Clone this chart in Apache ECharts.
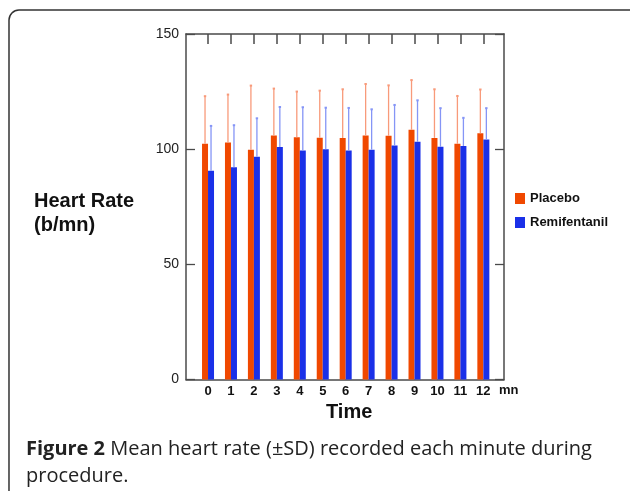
<!DOCTYPE html>
<html>
<head>
<meta charset="utf-8">
<script src="https://cdn.jsdelivr.net/npm/echarts@6/dist/echarts.min.js"></script>
<style>
  html, body { margin: 0; padding: 0; background: #fff; }
  #chart { width: 630px; height: 491px; }
</style>
</head>
<body>
<div id="chart"></div>
<script>
// minutes of the procedure
const minutes = [0, 1, 2, 3, 4, 5, 6, 7, 8, 9, 10, 11, 12];

// mean heart rate and SD, b/mn
const placeboMean = [102.3, 102.9, 99.7, 105.9, 105.2, 105.0, 104.9, 105.9, 105.8, 108.4, 104.9, 102.3, 106.9];
const placeboSD = [20.7, 20.8, 27.9, 20.4, 19.8, 20.4, 21.1, 22.4, 21.9, 21.6, 21.1, 20.8, 19.0];
const remiMean = [90.6, 92.2, 96.7, 100.9, 99.4, 100.0, 99.4, 99.8, 101.6, 103.2, 101.0, 101.4, 104.2];
const remiSD = [19.5, 18.2, 16.7, 17.4, 18.8, 18.0, 18.5, 17.5, 17.6, 18.0, 16.8, 12.2, 13.6];

const BAR_W = 6;
const axisColor = '#4a4a4a';

function errorSeries(name, means, sds, offset, color) {
  return {
    type: 'custom',
    name: name + ' SD',
    silent: true,
    z: 3,
    data: minutes.map((m, i) => [m, means[i], means[i] + sds[i]]),
    encode: { x: 0, y: [1, 2] },
    renderItem: function (params, api) {
      const base = api.coord([api.value(0), api.value(1)]);
      const top = api.coord([api.value(0), api.value(2)]);
      const x = base[0] + offset;
      return {
        type: 'group',
        children: [
          {
            type: 'line',
            shape: { x1: x, y1: base[1], x2: x, y2: top[1] },
            style: { stroke: color, lineWidth: 1.3 }
          },
          {
            type: 'rect',
            shape: { x: x - 1.2, y: top[1] - 1, width: 2.4, height: 2 },
            style: { fill: color }
          }
        ]
      };
    }
  };
}

const chart = echarts.init(document.getElementById('chart'));

chart.setOption({
  animation: false,
  backgroundColor: '#fff',
  textStyle: { fontFamily: 'Liberation Sans, Arial, sans-serif' },
  grid: { left: 186, right: 126, top: 34, bottom: 111.5 },
  legend: {
    data: ['Placebo', 'Remifentanil'],
    orient: 'vertical',
    left: 515,
    top: 192,
    padding: 0,
    itemWidth: 10,
    itemHeight: 11,
    itemGap: 11,
    icon: 'rect',
    textStyle: { fontSize: 13, fontWeight: 'bold', color: '#111' }
  },
  xAxis: [
    {
      type: 'value',
      min: -0.96,
      max: 12.9,
      position: 'bottom',
      splitLine: { show: false },
      axisLine: { show: true, onZero: false, lineStyle: { color: axisColor, width: 1.5 } },
      axisTick: { show: false },
      axisLabel: {
        customValues: minutes,
        margin: 5,
        fontSize: 13,
        fontWeight: 'bold',
        color: '#111'
      },
      name: 'mn',
      nameLocation: 'end',
      nameGap: -5,
      nameTextStyle: {
        fontSize: 13, fontWeight: 'bold', color: '#111',
        align: 'left', verticalAlign: 'top', padding: [4, 0, 0, 0]
      }
    },
    {
      type: 'value',
      min: -0.96,
      max: 12.9,
      position: 'top',
      splitLine: { show: false },
      axisLine: { show: true, onZero: false, lineStyle: { color: axisColor, width: 1.5 } },
      axisTick: {
        show: true, inside: true, length: 10, customValues: minutes,
        lineStyle: { color: axisColor, width: 1.5 }
      },
      axisLabel: { show: false }
    }
  ],
  yAxis: [
    {
      type: 'value',
      min: 0,
      max: 150,
      interval: 50,
      position: 'left',
      splitLine: { show: false },
      axisLine: { show: true, onZero: false, lineStyle: { color: axisColor, width: 1.5 } },
      axisTick: { show: true, inside: true, length: 9, lineStyle: { color: axisColor, width: 1.3 } },
      axisLabel: { margin: 7, fontSize: 14, color: '#222' }
    },
    {
      type: 'value',
      min: 0,
      max: 150,
      interval: 50,
      position: 'right',
      splitLine: { show: false },
      axisLine: { show: true, onZero: false, lineStyle: { color: axisColor, width: 1.5 } },
      axisTick: { show: true, inside: true, length: 9, lineStyle: { color: axisColor, width: 1.3 } },
      axisLabel: { show: false }
    }
  ],
  series: [
    {
      type: 'bar',
      name: 'Placebo',
      barWidth: BAR_W,
      barGap: '0%',
      itemStyle: { color: '#f04800' },
      data: minutes.map((m, i) => [m, placeboMean[i]])
    },
    {
      type: 'bar',
      name: 'Remifentanil',
      barWidth: BAR_W,
      barGap: '0%',
      itemStyle: { color: '#1a30e8' },
      data: minutes.map((m, i) => [m, remiMean[i]])
    },
    errorSeries('Placebo', placeboMean, placeboSD, -BAR_W / 2, '#f89a7a'),
    errorSeries('Remifentanil', remiMean, remiSD, BAR_W / 2, '#8595f6')
  ],
  graphic: [
    {
      type: 'rect',
      shape: { x: 9, y: 10, width: 640, height: 500, r: 10 },
      style: { fill: null, stroke: '#333', lineWidth: 1.5 },
      silent: true
    },
    {
      type: 'text',
      left: 34, top: 189,
      style: {
        text: 'Heart Rate\n(b/mn)',
        fontFamily: 'Liberation Sans, Arial, sans-serif',
        fontSize: 20, fontWeight: 'bold', lineHeight: 24, fill: '#111'
      }
    },
    {
      type: 'text',
      left: 326, top: 402,
      style: {
        text: 'Time',
        fontFamily: 'Liberation Sans, Arial, sans-serif',
        fontSize: 20, fontWeight: 'bold', fill: '#111'
      }
    },
    {
      type: 'text',
      left: 26, top: 436,
      style: {
        text: '{b|Figure 2} Mean heart rate (\u00b1SD) recorded each minute during\nprocedure.',
        fontFamily: 'Open Sans, sans-serif',
        fontSize: 20, lineHeight: 27, fill: '#222',
        rich: {
          b: { fontFamily: 'Open Sans, sans-serif', fontSize: 20, fontWeight: 'bold', fill: '#222' }
        }
      }
    }
  ]
});
</script>
</body>
</html>
